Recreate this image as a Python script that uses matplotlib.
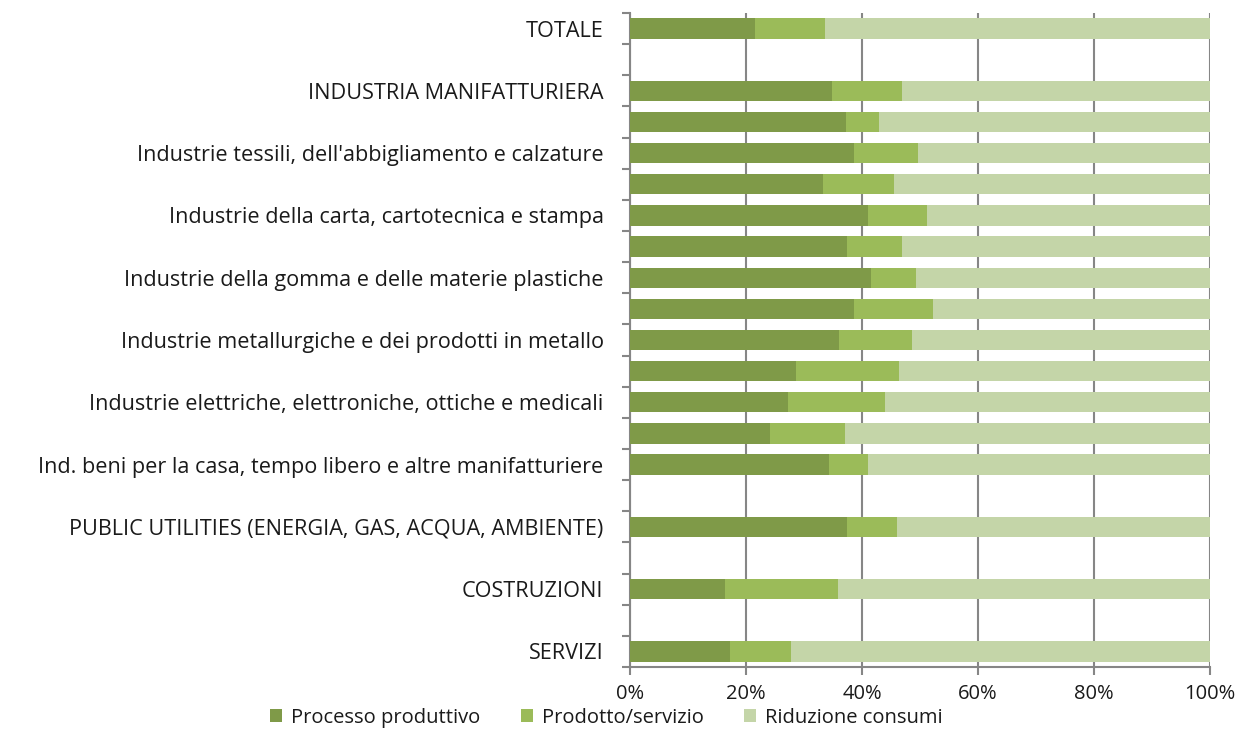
import numpy as np
import matplotlib.pyplot as plt
from matplotlib.ticker import PercentFormatter, MultipleLocator

plt.rcParams['font.family'] = ['Open Sans', 'DejaVu Sans']

categories = ["TOTALE", "", "INDUSTRIA MANIFATTURIERA", "",
              "Industrie tessili, dell'abbigliamento e calzature", "",
              "Industrie della carta, cartotecnica e stampa", "",
              "Industrie della gomma e delle materie plastiche", "",
              "Industrie metallurgiche e dei prodotti in metallo", "",
              "Industrie elettriche, elettroniche, ottiche e medicali", "",
              "Ind. beni per la casa, tempo libero e altre manifatturiere", "",
              "PUBLIC UTILITIES (ENERGIA, GAS, ACQUA, AMBIENTE)", "",
              "COSTRUZIONI", "", "SERVIZI"]

# percentages, NaN = empty row
processo = [21.5, np.nan, 34.9, 37.3, 38.6, 33.3, 41.0, 37.4, 41.5, 38.6, 36.1,
            28.7, 27.2, 24.1, 34.3, np.nan, 37.4, np.nan, 16.4, np.nan, 17.3]
prodotto = [12.2, np.nan, 12.0, 5.6, 11.1, 12.3, 10.2, 9.5, 7.8, 13.7, 12.6,
            17.6, 16.8, 12.9, 6.7, np.nan, 8.6, np.nan, 19.4, np.nan, 10.5]
series_names = ["Processo produttivo", "Prodotto/servizio", "Riduzione consumi"]
colors = ["#7F9A48", "#9BBB59", "#C4D5A8"]

processo = np.array(processo)
prodotto = np.array(prodotto)
riduzione = 100 - processo - prodotto

fig = plt.figure(figsize=(12.58, 7.40), dpi=100)
ax = fig.add_axes([0.5008, 0.0986, 0.4610, 0.8838])

y = np.arange(len(categories))
h = 0.65
ax.barh(y, processo, height=h, color=colors[0], label=series_names[0], zorder=3)
ax.barh(y, prodotto, left=processo, height=h, color=colors[1], label=series_names[1], zorder=3)
ax.barh(y, riduzione, left=processo + prodotto, height=h, color=colors[2], label=series_names[2], zorder=3)

ax.set_xlim(0, 100)
ax.set_ylim(len(categories) - 0.5, -0.5)
ax.xaxis.set_major_locator(MultipleLocator(20))
ax.xaxis.set_major_formatter(PercentFormatter(decimals=0))
ax.set_yticks(y)
ax.set_yticklabels(categories)
ax.set_yticks(np.arange(len(categories) + 1) - 0.5, minor=True)

ax.grid(axis='x', color='#868686', linewidth=1.5, zorder=0)
for s in ['top', 'right']:
    ax.spines[s].set_visible(False)
for s in ['left', 'bottom']:
    ax.spines[s].set_color('#868686')
    ax.spines[s].set_linewidth(1.5)

fs = 15.6
ax.tick_params(axis='y', which='major', length=0, pad=19, labelsize=fs, labelcolor='#1a1a1a')
ax.tick_params(axis='y', which='minor', length=6, width=1.5, color='#868686', direction='out')
ax.tick_params(axis='x', which='major', length=6, width=1.5, color='#868686', pad=6,
               labelsize=14.5, labelcolor='#1a1a1a')

fig.legend(loc='lower center', bbox_to_anchor=(0.482, 0.0), ncol=3, frameon=False,
           fontsize=14.5, handlelength=0.6, handleheight=0.6, columnspacing=2.0,
           handletextpad=0.45, labelcolor='#1a1a1a', borderpad=0.1)

fig.savefig("out.png", dpi=100)
